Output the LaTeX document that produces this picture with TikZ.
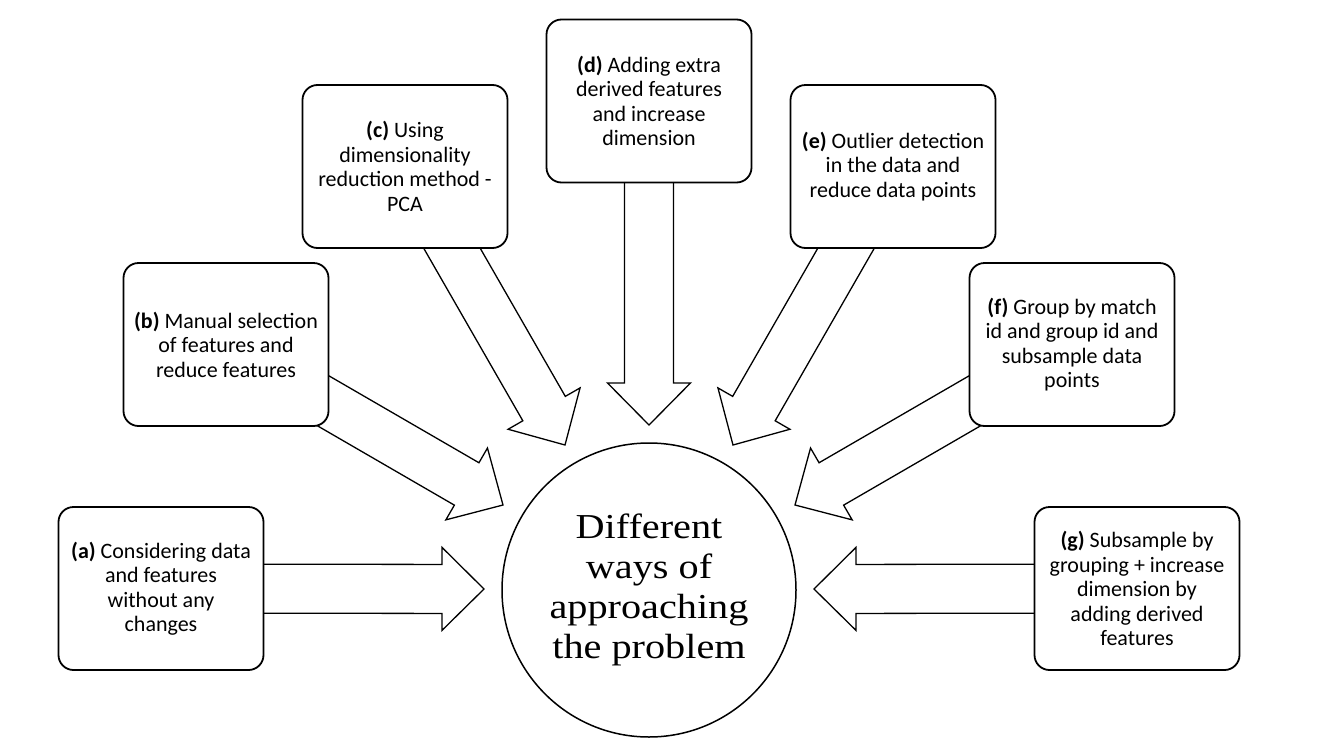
\documentclass[tikz,border=0pt]{standalone}
\usepackage{fontspec}
\setmainfont{Carlito}
\newfontfamily\ctrfont[FakeStretch=1.15]{Liberation Serif}
\usetikzlibrary{calc,backgrounds}
\tikzset{
  optbox/.style={draw, line width=1.8pt, rounded corners=15pt, fill=white,
    minimum width=205pt, minimum height=163pt, align=center, inner sep=2pt,
    font=\fontsize{22}{24.5}\selectfont},
  hub/.style={circle, draw, line width=1.5pt, minimum size=294pt, inner sep=0pt,
    align=center, font=\ctrfont\fontsize{35}{40}\selectfont},
  arrowline/.style={draw, line width=1.3pt, fill=white, line join=miter}
}
\newcommand\fatarrow[2]{%
  \coordinate (hb) at ($(#2)!42pt!(#1)$);
  \draw[arrowline] ($(#1)!24.5pt!90:(#2)$) -- ($(hb)!24.5pt!-90:(#1)$)
    -- ($(hb)!41.5pt!-90:(#1)$) -- (#2) -- ($(hb)!41.5pt!90:(#1)$)
    -- ($(hb)!24.5pt!90:(#1)$) -- ($(#1)!24.5pt!-90:(#2)$) -- cycle;
}
\begin{document}
\begin{tikzpicture}[x=1pt,y=-1pt]
\useasboundingbox (0,0) rectangle (1326,750);
\node[optbox] (a) at (161,588.5) {\textbf{(a)} Considering data\\and features\\without any\\changes};
\node[optbox] (b) at (226,344.5) {\textbf{(b)} Manual selection\\of features and\\reduce features};
\node[optbox] (c) at (405,166.5) {\textbf{(c)} Using\\dimensionality\\reduction method -\\PCA};
\node[optbox] (d) at (649,101) {\textbf{(d)} Adding extra\\derived features\\and increase\\dimension};
\node[optbox] (e) at (893,166.5) {\textbf{(e)} Outlier detection\\in the data and\\reduce data points};
\node[optbox] (f) at (1072,344.5) {\textbf{(f)} Group by match\\id and group id and\\subsample data\\points};
\node[optbox] (g) at (1137,588.5) {\textbf{(g)} Subsample by\\grouping + increase\\dimension by\\adding derived\\features};
\node[hub] (hub) at (649,590) {Different\\ways of\\approaching\\the problem};
\coordinate (ta) at (484,589);
\coordinate (tb) at (503,505);
\coordinate (tc) at (565,445);
\coordinate (td) at (649,425);
\coordinate (te) at (733,445);
\coordinate (tf) at (795,505);
\coordinate (tg) at (814,589);
\begin{scope}[on background layer]
\fatarrow{a.center}{ta}
\fatarrow{b.center}{tb}
\fatarrow{c.center}{tc}
\fatarrow{d.center}{td}
\fatarrow{e.center}{te}
\fatarrow{f.center}{tf}
\fatarrow{g.center}{tg}
\end{scope}
\end{tikzpicture}
\end{document}
